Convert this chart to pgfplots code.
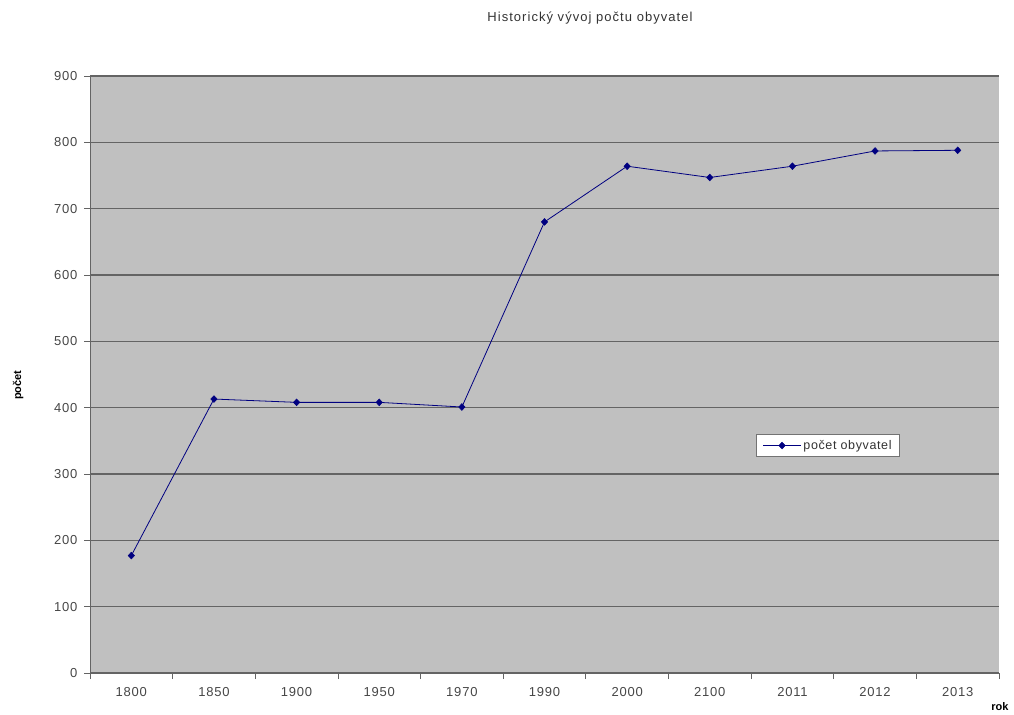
\documentclass[border=0pt]{standalone}
\usepackage{pgfplots}
\pgfplotsset{compat=1.18}
\pgfplotsset{legend image code/.code={\draw[mark repeat=2, mark phase=2, #1] plot coordinates {(0pt,0pt) (19pt,0pt) (38pt,0pt)};}}
\usepackage{fontspec}
\setmainfont{Liberation Sans}
\newfontfamily\tickfont[LetterSpace=6]{Liberation Sans}
\newfontfamily\titlefont[LetterSpace=8]{Liberation Sans}
\newfontfamily\legfont[LetterSpace=5]{Liberation Sans}
\definecolor{navyline}{RGB}{0,0,128}
\definecolor{plotbg}{RGB}{192,192,192}
\definecolor{gridc}{RGB}{100,100,100}
\definecolor{tickc}{RGB}{70,70,70}
\begin{document}
\begin{tikzpicture}
\path (0pt,0pt) rectangle (1014pt,713pt);
\begin{axis}[
  at={(90pt,40pt)}, anchor=south west,
  scale only axis, width=909pt, height=597pt,
  xmin=-0.5, xmax=10.5, ymin=0, ymax=900,
  xtick={0,...,10},
  xticklabels={1800,1850,1900,1950,1970,1990,2000,2100,2011,2012,2013},
  minor xtick={-0.5,0.5,...,10.5},
  ytick={0,100,...,900},
  axis x line*=bottom, axis y line*=left,
  axis line style={color=gridc, line width=1pt, -},
  tick align=outside,
  major x tick style={draw=none},
  minor x tick style={color=gridc, line width=0.8pt},
  minor tick length=6pt,
  major y tick style={color=gridc, line width=0.8pt},
  major tick length=6pt,
  ymajorgrids,
  major grid style={color=gridc, line width=1.3pt},
  axis background/.style={fill=plotbg},
  tick label style={font=\tickfont\fontsize{13}{15}\selectfont, color=tickc},
  xticklabel style={yshift=-5pt},
  yticklabel style={xshift=-3pt},
  /pgf/number format/assume math mode=true,
  title={Historický vývoj počtu obyvatel},
  title style={font=\titlefont\fontsize{13}{15}\selectfont, color=black!80, at={(axis description cs:0.55,1)}, anchor=center, yshift=52pt},
  ylabel={počet},
  ylabel style={font=\bfseries\fontsize{11}{13}\selectfont, at={(axis description cs:-0.079,0.482)}, anchor=center},
  xlabel={rok},
  xlabel style={font=\bfseries\fontsize{11}{13}\selectfont, at={(axis description cs:1.001,-0.057)}, anchor=center},
  legend style={at={(axis description cs:0.812,0.381)}, anchor=center, draw=black!55, fill=white, font=\legfont\fontsize{12.5}{14}\selectfont, text=black!80, inner xsep=6pt, inner ysep=3.5pt, line width=1.3pt},
  legend cell align=left,
]
\addplot[color=navyline, line width=0.8pt, mark=diamond*, mark size=3.4pt, mark options={fill=navyline, line width=0.5pt, xscale=1.25}]
  coordinates {(0,177) (1,413) (2,408) (3,408) (4,401) (5,680) (6,764) (7,747) (8,764) (9,787) (10,788)};
\addlegendentry{počet obyvatel}
\end{axis}
\end{tikzpicture}
\end{document}
